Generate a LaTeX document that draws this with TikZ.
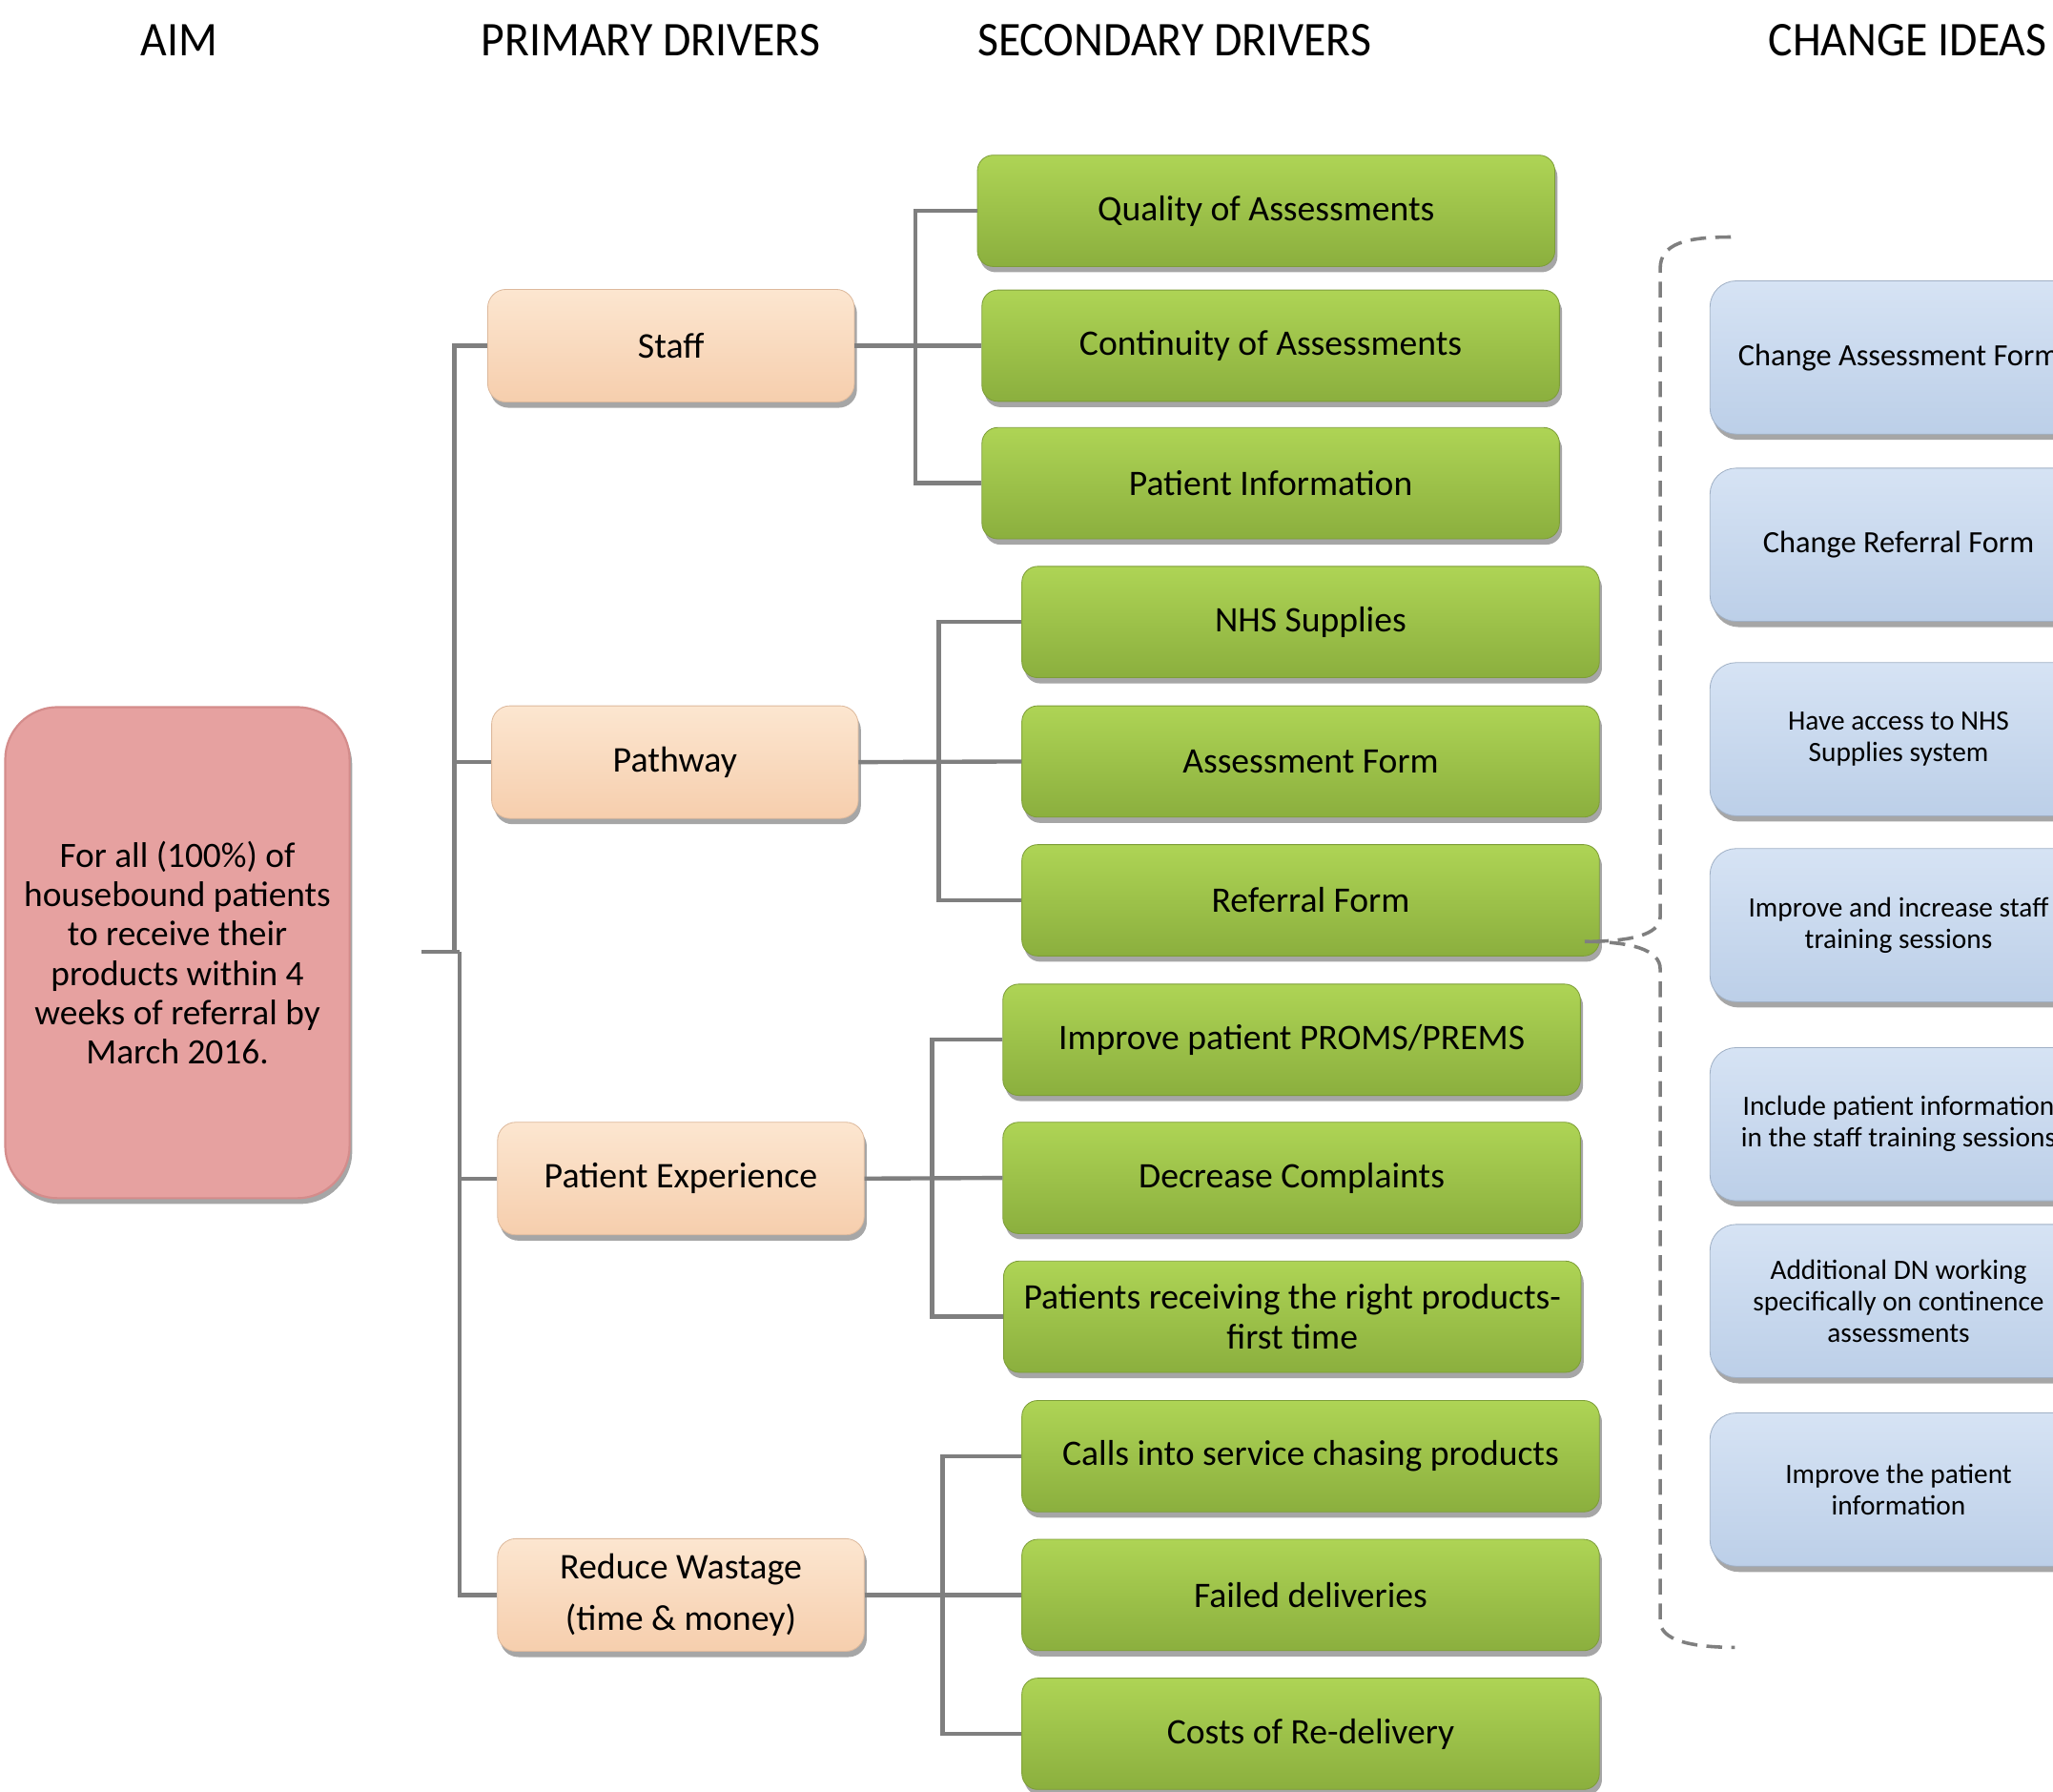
\documentclass[tikz,border=0pt]{standalone}
\usepackage{fontspec}
\setmainfont{Carlito}
\usetikzlibrary{shadows}
\definecolor{linegray}{HTML}{7F7F7F}
\definecolor{aimfill}{HTML}{E6A1A0}
\definecolor{aimedge}{HTML}{D48C8B}
\definecolor{peachtop}{HTML}{FCE6D0}
\definecolor{peachbot}{HTML}{F6CEAD}
\definecolor{greentop}{HTML}{AED455}
\definecolor{greenbot}{HTML}{8BAF3E}
\definecolor{bluetop}{HTML}{D6E3F4}
\definecolor{bluebot}{HTML}{BCCFE8}
\begin{document}
\begin{tikzpicture}[x=0.5pt,y=-0.5pt,
  conn/.style={draw=linegray,line width=1.6pt},
  bracket/.style={draw=linegray,line width=1.3pt,dash pattern=on 6pt off 3.5pt},
  header/.style={font=\fontsize{18.5}{22}\selectfont, inner sep=0pt},
  basebox/.style={inner sep=0pt, align=center,
    drop shadow={shadow xshift=1pt,shadow yshift=-2.2pt,opacity=0.35,fill=black}},
  aimbox/.style={basebox, rounded corners=20pt, fill=aimfill, draw=aimedge, line width=0.8pt,
    minimum width=131.5pt, minimum height=187.5pt, font=\fontsize{13.6}{15}\selectfont},
  primbox/.style={basebox, rounded corners=7pt, top color=peachtop, bottom color=peachbot, draw=peachbot!90!black, line width=0.3pt,
    minimum width=140pt, minimum height=43pt, font=\fontsize{13.8}{20}\selectfont},
  secbox/.style={basebox, rounded corners=6pt, top color=greentop, bottom color=greenbot, draw=greenbot!90!black, line width=0.3pt,
    minimum width=220.5pt, minimum height=42.5pt, font=\fontsize{13.7}{15}\selectfont},
  ideabox/.style={basebox, rounded corners=10pt, top color=bluetop, bottom color=bluebot, draw=bluebot!85!black, line width=0.3pt,
    minimum width=144pt, minimum height=58.5pt, font=\fontsize{10.7}{12}\selectfont},
  bigidea/.style={font=\fontsize{11.8}{13}\selectfont}
]
\useasboundingbox (0,0) rectangle (1568,1368);
\fill[white] (0,0) rectangle (1568,1368);

% headers
\node[header] (hAim) at (137,31) {\scalebox{0.94}[1]{AIM}};
\node[header] (hPrim) at (497,31) {\scalebox{0.94}[1]{PRIMARY DRIVERS}};
\node[header] (hSec) at (897,31) {\scalebox{0.94}[1]{SECONDARY DRIVERS}};
\node[header] (hIdea) at (1457,31) {\scalebox{0.94}[1]{CHANGE IDEAS}};

% aim
\node[aimbox] (aim) at (135.5,727.5) {For all (100\%) of\\housebound patients\\to receive their\\products within 4\\weeks of referral by\\March 2016.};

% primary drivers
\node[primbox] (staff) at (512.5,264) {Staff};
\node[primbox] (path) at (515.5,582) {Pathway};
\node[primbox] (pexp) at (520,900) {Patient Experience};
\node[primbox] (waste) at (520,1218) {Reduce Wastage\\(time \& money)};

% secondary drivers
\node[secbox] (q1) at (967,161) {Quality of Assessments};
\node[secbox] (q2) at (970.5,264) {Continuity of Assessments};
\node[secbox] (q3) at (970.5,369) {Patient Information};
\node[secbox] (p1) at (1001,475) {NHS Supplies};
\node[secbox] (p2) at (1001,581.5) {Assessment Form};
\node[secbox] (p3) at (1001,687.5) {Referral Form};
\node[secbox] (e1) at (986.5,794) {Improve patient PROMS/PREMS};
\node[secbox] (e2) at (986.5,899.5) {Decrease Complaints};
\node[secbox] (e3) at (987,1005.5) {Patients receiving the right products-\\first time};
\node[secbox] (w1) at (1001,1112) {Calls into service chasing products};
\node[secbox] (w2) at (1001,1218) {Failed deliveries};
\node[secbox] (w3) at (1001,1324) {Costs of Re-delivery};

% change ideas
\node[ideabox,bigidea] (c1) at (1450,273) {Change Assessment Form};
\node[ideabox,bigidea] (c2) at (1450,416) {Change Referral Form};
\node[ideabox] (c3) at (1450,564.5) {Have access to NHS\\Supplies system};
\node[ideabox] (c4) at (1450,706.5) {Improve and increase staff\\training sessions};
\node[ideabox] (c5) at (1450,858.5) {Include patient information\\in the staff training sessions};
\node[ideabox] (c6) at (1450,993.5) {Additional DN working\\specifically on continence\\assessments};
\node[ideabox] (c7) at (1450,1137.5) {Improve the patient\\information};

% connectors aim -> primary
\coordinate (aimc) at (322,727);
\coordinate (tru) at (347,727);
\coordinate (trl) at (351,727);
\draw[conn] (aimc) -- (trl);
\draw[conn] (tru) |- (staff.west);
\draw[conn] (tru) |- (path.west);
\draw[conn] (trl) |- (pexp.west);
\draw[conn] (trl) |- (waste.west);

% staff group
\coordinate (sj) at (699,264);
\draw[conn] (staff.east) -- (q2.west);
\draw[conn] (q1.west) -| (sj) |- (q3.west);
% pathway group
\coordinate (pj) at (717,581.5);
\draw[conn] (path.east) -- (p2.west);
\draw[conn] (p1.west) -| (pj) |- (p3.west);
% patient experience group
\coordinate (ej) at (712,899.5);
\draw[conn] (pexp.east) -- (e2.west);
\draw[conn] (e1.west) -| (ej) |- (e3.west);
% wastage group
\coordinate (wj) at (720,1218);
\draw[conn] (waste.east) -- (w2.west);
\draw[conn] (w1.west) -| (wj) |- (w3.west);

% dashed bracket
\coordinate (btop) at (1322,181);
\coordinate (bbot) at (1325,1258);
\coordinate (btip) at (1210,719);
\draw[bracket] (btop) .. controls (1288,181) and (1268,186) .. (1268,205)
  -- (1268,700) .. controls (1268,714) and (1245,719) .. (btip)
  .. controls (1245,719) and (1268,725) .. (1268,740)
  -- (1268,1238) .. controls (1268,1252) and (1290,1258) .. (bbot);
\end{tikzpicture}
\end{document}
